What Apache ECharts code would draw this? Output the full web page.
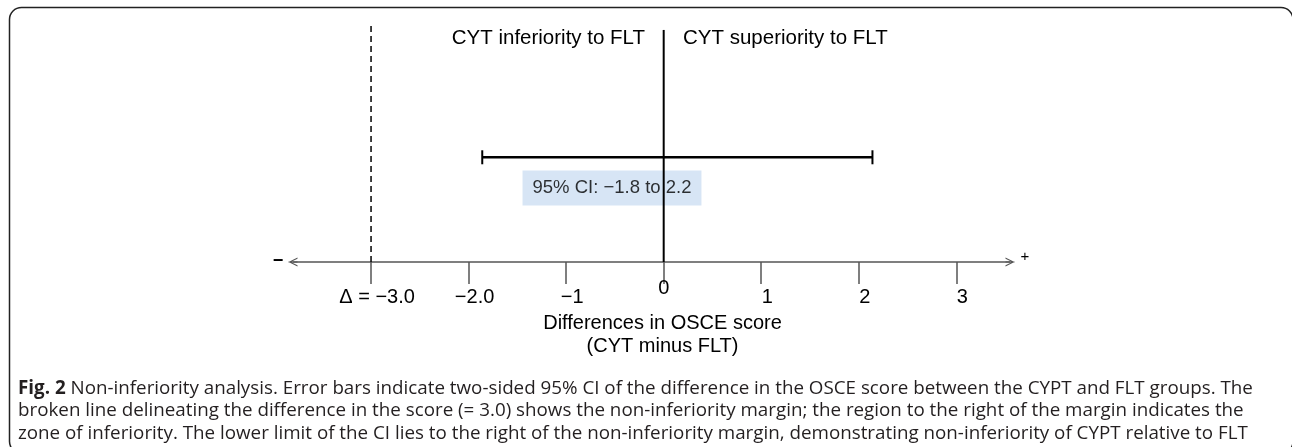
<!DOCTYPE html>
<html>
<head>
<meta charset="utf-8">
<script src="https://cdn.jsdelivr.net/npm/echarts@6/dist/echarts.min.js"></script>
<style>
  html, body { margin: 0; padding: 0; background: #fff; }
  #chart { width: 1292px; height: 447px; }
</style>
</head>
<body>
<div id="chart"></div>
<script>
// ---- data ----
const tickValues = [-3, -2, -1, 0, 1, 2, 3];
const tickLabels = ['Δ = −3.0', '−2.0', '−1', '0', '1', '2', '3'];
const ciLow = -1.86;
const ciHigh = 2.14;
const ciText = '95% CI: −1.8 to 2.2';
const marginValue = -3.0;
const zeroValue = 0;
const axisTitle = ['Differences in OSCE score', '(CYT minus FLT)'];
const leftNote = 'CYT inferiority to FLT';
const rightNote = 'CYT superiority to FLT';
const captionLines = [
  'Non-inferiority analysis. Error bars indicate two-sided 95% CI of the difference in the OSCE score between the CYPT and FLT groups. The',
  'broken line delineating the difference in the score (= 3.0) shows the non-inferiority margin; the region to the right of the margin indicates the',
  'zone of inferiority. The lower limit of the CI lies to the right of the non-inferiority margin, demonstrating non-inferiority of CYPT relative to FLT'
];
const captionLead = 'Fig. 2';

// ---- chart ----
const chartFont = 'Liberation Sans';
const fs = 20;
const chart = echarts.init(document.getElementById('chart'), null, { renderer: 'canvas' });
const labelMap = {};
tickValues.forEach((v, i) => { labelMap[v] = tickLabels[i]; });

const chevron = 'path://M50,0 L100,100 L86,100 L50,26 L14,100 L0,100 Z M44,0 L56,0 L56,100 L44,100 Z';

const option = {
  animation: false,
  backgroundColor: '#fff',
  title: {
    left: 13,
    top: 372,
    text: '{b|' + captionLead + '} ' + captionLines.join('\n'),
    textStyle: {
      fontFamily: 'Open Sans',
      fontSize: 18.8,
      fontWeight: 'normal',
      color: '#231f20',
      lineHeight: 22.5,
      rich: {
        b: { fontFamily: 'Open Sans', fontSize: 18.8, fontWeight: 'bold', color: '#231f20', lineHeight: 22.5 }
      }
    }
  },
  grid: { left: 293, right: 282, top: 24, bottom: 185 },
  xAxis: {
    type: 'value',
    min: -3.8,
    max: 3.55,
    splitLine: { show: false },
    axisLine: {
      show: true,
      onZero: false,
      lineStyle: { color: '#555', width: 1.5 },
      symbol: [chevron, chevron],
      symbolSize: [12, 9]
    },
    axisTick: {
      show: true,
      customValues: tickValues,
      length: 22,
      lineStyle: { color: '#555', width: 1.5 }
    },
    axisLabel: {
      customValues: tickValues,
      margin: 3,
      color: '#000',
      fontFamily: chartFont,
      fontSize: fs,
      formatter: function (v) {
        const t = labelMap[v] !== undefined ? labelMap[v] : '';
        return v === 0 ? '{z|' + t + '}' : '{n|' + t + '}';
      },
      rich: {
        n: { fontFamily: chartFont, fontSize: fs, color: '#000', padding: [22, 0, 0, 12] },
        z: { fontFamily: chartFont, fontSize: fs, color: '#000', padding: [13, 0, 0, 0] }
      }
    },
    name: axisTitle.join('\n'),
    nameLocation: 'middle',
    nameGap: 45,
    nameTextStyle: {
      fontFamily: chartFont,
      fontSize: fs,
      color: '#000',
      lineHeight: 23,
      padding: [0, 0, 0, 22]
    }
  },
  yAxis: { type: 'value', min: 0, max: 100, show: false },
  series: [
    {
      type: 'scatter',
      z: 1,
      symbolSize: 1,
      itemStyle: { color: 'rgba(0,0,0,0)' },
      data: [[-0.53, 31.1]],
      label: {
        show: true,
        position: 'inside',
        formatter: ciText,
        fontFamily: chartFont,
        fontSize: 18.5,
        color: '#000',
        backgroundColor: '#cddff3',
        padding: [8, 10, 8, 10]
      }
    },
    {
      type: 'custom',
      z: 3,
      data: [[ciLow, ciHigh, 44]],
      renderItem: function (params, api) {
        const a = api.coord([api.value(0), api.value(2)]);
        const b = api.coord([api.value(1), api.value(2)]);
        const cap = 7;
        const st = { stroke: '#000', lineWidth: 2.5 };
        return {
          type: 'group',
          children: [
            { type: 'line', shape: { x1: a[0], y1: a[1], x2: b[0], y2: b[1] }, style: st },
            { type: 'line', shape: { x1: a[0], y1: a[1] - cap, x2: a[0], y2: a[1] + cap }, style: { stroke: '#000', lineWidth: 2 } },
            { type: 'line', shape: { x1: b[0], y1: b[1] - cap, x2: b[0], y2: b[1] + cap }, style: { stroke: '#000', lineWidth: 2 } }
          ]
        };
      }
    },
    {
      type: 'line',
      z: 4,
      symbol: 'none',
      lineStyle: { color: '#000', width: 1.5, type: [6, 4] },
      data: [[marginValue, 0], [marginValue, 100]]
    },
    {
      type: 'line',
      z: 5,
      symbol: 'none',
      lineStyle: { color: '#000', width: 2 },
      data: [[zeroValue, 0], [zeroValue, 97.5]]
    }
  ],
  graphic: [
    {
      type: 'rect',
      silent: true,
      shape: { x: 9.5, y: 7.5, width: 1283.5, height: 446, r: 12 },
      style: { fill: 'none', stroke: '#222', lineWidth: 1.5 }
    },
    {
      type: 'text', x: 645, y: 38,
      style: { text: leftNote, font: '20.5px "' + chartFont + '"', fill: '#000', textAlign: 'right', textVerticalAlign: 'middle' }
    },
    {
      type: 'text', x: 683, y: 38,
      style: { text: rightNote, font: '20.5px "' + chartFont + '"', fill: '#000', textAlign: 'left', textVerticalAlign: 'middle' }
    },
    {
      type: 'text', x: 278, y: 261,
      style: { text: '−', font: 'bold 18px "' + chartFont + '"', fill: '#000', textAlign: 'center', textVerticalAlign: 'middle' }
    },
    {
      type: 'text', x: 1025, y: 257,
      style: { text: '+', font: '15px "' + chartFont + '"', fill: '#000', textAlign: 'center', textVerticalAlign: 'middle' }
    }
  ]
};
chart.setOption(option);
</script>
</body>
</html>
